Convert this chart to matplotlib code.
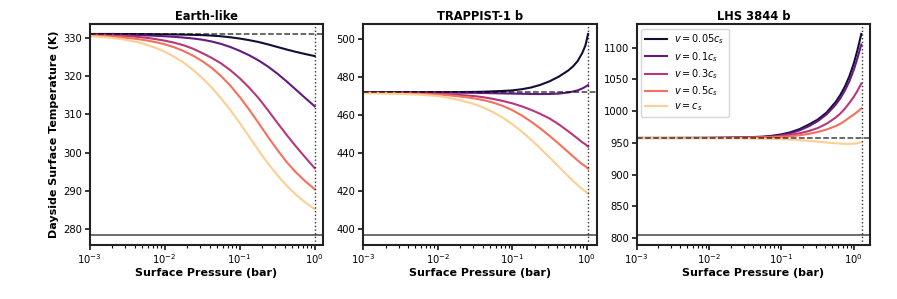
import numpy as np
import matplotlib
matplotlib.use("Agg")
import matplotlib.pyplot as plt
from matplotlib import cm

# ---------------- data ----------------
titles = ["Earth-like", "TRAPPIST-1 b", "LHS 3844 b"]
labels = [r"$v = 0.05c_s$", r"$v = 0.1c_s$", r"$v = 0.3c_s$", r"$v = 0.5c_s$", r"$v = c_s$"]

# Earth-like (log10 surface pressure in bar, temperatures in K)
logp_earth = [-3, -2.875, -2.75, -2.625, -2.5, -2.375, -2.25, -2.125, -2, -1.875, -1.75, -1.625, -1.5,
              -1.375, -1.25, -1.125, -1, -0.875, -0.75, -0.625, -0.5, -0.375, -0.25, -0.125, 0]
T_earth_005 = [331.1, 331.1, 331.1, 331.09, 331.08, 331.07, 331.05, 331.03, 331.0, 330.97, 330.93, 330.87, 330.8,
               330.67, 330.5, 330.23, 329.9, 329.48, 329.0, 328.38, 327.7, 327.03, 326.4, 325.83, 325.3]
T_earth_01 = [331.0, 330.98, 330.95, 330.91, 330.86, 330.8, 330.72, 330.62, 330.5, 330.35, 330.16, 329.92, 329.6,
              329.13, 328.5, 327.68, 326.68, 325.53, 324.18, 322.58, 320.73, 318.68, 316.48, 314.28, 312.13]
T_earth_03 = [330.9, 330.85, 330.78, 330.68, 330.54, 330.35, 330.1, 329.77, 329.35, 328.82, 328.15, 327.25, 326.1,
              324.85, 323.4, 321.6, 319.5, 317.05, 314.3, 311.15, 307.85, 304.65, 301.6, 298.7, 295.9]
T_earth_05 = [330.7, 330.6, 330.47, 330.3, 330.08, 329.8, 329.44, 328.98, 328.4, 327.62, 326.64, 325.44, 323.99,
              322.24, 320.09, 317.54, 314.59, 311.29, 307.79, 304.19, 300.74, 297.54, 294.79, 292.44, 290.39]
T_earth_10 = [330.5, 330.35, 330.15, 329.87, 329.49, 328.99, 328.34, 327.49, 326.44, 325.14, 323.59, 321.74, 319.59,
              317.09, 314.24, 311.14, 307.79, 304.19, 300.59, 297.19, 294.09, 291.34, 288.94, 286.89, 285.14]
earth_airless = 331.1   # dashed
earth_eq = 278.4        # solid
earth_pmax = 1.0

# TRAPPIST-1 b
logp_t1b = [-3, -2.75, -2.5, -2.25, -2, -1.875, -1.75, -1.625, -1.5, -1.375, -1.25, -1.125, -1,
            -0.875, -0.75, -0.625, -0.5, -0.375, -0.25, -0.1875, -0.125, -0.0625, -0.02, 0.016]
T_t1b_005 = [472.0, 472.0, 472.0, 472.05, 472.1, 472.1, 472.1, 472.15, 472.2, 472.3, 472.5, 472.7, 473.0,
             473.6, 474.5, 475.9, 477.8, 480.3, 483.5, 485.6, 488.4, 492.7, 496.7, 502.8]
T_t1b_01 = [472.0, 472.0, 472.0, 471.95, 471.9, 471.85, 471.8, 471.75, 471.7, 471.6, 471.5, 471.4, 471.3,
            471.2, 471.1, 471.05, 471.1, 471.3, 471.9, 472.4, 473.0, 474.0, 474.9, 475.8]
T_t1b_03 = [471.8, 471.72, 471.6, 471.42, 471.2, 470.95, 470.67, 470.35, 469.95, 469.3, 468.45, 467.4, 466.15,
            464.6, 462.75, 460.6, 458.15, 455.0, 451.4, 449.5, 447.6, 445.6, 444.5, 443.3]
T_t1b_05 = [471.7, 471.6, 471.45, 471.2, 470.8, 470.45, 470.0, 469.43, 468.7, 467.75, 466.45, 464.75, 462.55,
            459.8, 456.55, 452.9, 448.95, 444.75, 440.4, 438.2, 436.05, 434.0, 432.9, 431.6]
T_t1b_10 = [471.5, 471.35, 471.1, 470.7, 470.0, 469.25, 468.25, 467.05, 465.6, 463.7, 461.35, 458.5, 455.15,
            451.3, 447.0, 442.4, 437.55, 432.6, 427.6, 425.25, 423.0, 420.85, 419.6, 418.5]
t1b_airless = 472.0
t1b_eq = 396.7
t1b_pmax = 1.04

# LHS 3844 b
logp_lhs = [-3, -2.5, -2, -1.75, -1.5, -1.375, -1.25, -1.125, -1, -0.875, -0.75, -0.625, -0.5,
            -0.375, -0.25, -0.1875, -0.125, -0.0625, 0, 0.05, 0.103]
T_lhs_005 = [957.6, 957.6, 957.7, 958.0, 958.6, 959.1, 959.7, 961.1, 963.2, 966.6, 971.5, 978.5, 986.4,
             997.8, 1014.4, 1025.2, 1038.2, 1054.5, 1075.2, 1096.0, 1121.4]
T_lhs_01 = [957.6, 957.6, 957.7, 957.9, 958.3, 958.6, 959.0, 960.1, 962.0, 965.2, 969.5, 975.9, 983.9,
            994.9, 1010.1, 1020.0, 1032.0, 1046.7, 1065.2, 1083.4, 1104.7]
T_lhs_03 = [957.5, 957.5, 957.6, 957.8, 958.2, 958.5, 959.0, 959.7, 960.8, 962.5, 964.9, 968.4, 973.1,
            980.1, 989.8, 996.0, 1003.6, 1012.7, 1022.5, 1031.9, 1043.2]
T_lhs_05 = [957.5, 957.5, 957.6, 957.7, 957.9, 958.1, 958.4, 958.8, 959.4, 960.3, 961.8, 964.0, 967.0,
            970.9, 976.4, 979.9, 984.3, 989.7, 994.5, 998.8, 1004.0]
T_lhs_10 = [957.3, 957.2, 957.0, 956.9, 956.7, 956.5, 956.2, 955.9, 955.5, 955.0, 954.2, 953.2, 951.9,
            950.4, 949.2, 948.7, 948.3, 948.2, 948.5, 949.3, 950.8]
lhs_airless = 957.6
lhs_eq = 805.0
lhs_pmax = 1.29

yticks_list = [[280, 290, 300, 310, 320, 330],
               [400, 420, 440, 460, 480, 500],
               [800, 850, 900, 950, 1000, 1050, 1100]]

panels = [
    (logp_earth, [T_earth_005, T_earth_01, T_earth_03, T_earth_05, T_earth_10], earth_airless, earth_eq, earth_pmax),
    (logp_t1b, [T_t1b_005, T_t1b_01, T_t1b_03, T_t1b_05, T_t1b_10], t1b_airless, t1b_eq, t1b_pmax),
    (logp_lhs, [T_lhs_005, T_lhs_01, T_lhs_03, T_lhs_05, T_lhs_10], lhs_airless, lhs_eq, lhs_pmax),
]

colors = cm.magma(np.linspace(0.1, 0.9, 5))

fig, axes = plt.subplots(1, 3, figsize=(8.97, 2.99), dpi=100)
fig.subplots_adjust(left=0.100, right=0.970, bottom=0.181, top=0.920, wspace=0.171)

for i, ax in enumerate(axes):
    logp, series, airless, eq, pmax = panels[i]
    p = 10.0 ** np.array(logp)
    for s, c, lab in zip(series, colors, labels):
        ax.plot(p, s, color=c, lw=1.5, label=lab, solid_joinstyle="round")
    ax.axhline(airless, color="k", ls="--", lw=1.1, alpha=0.75)
    ax.axhline(eq, color="#444444", ls="-", lw=1.1)
    ax.axvline(pmax, color="k", ls=":", lw=1.0, alpha=0.8)
    ax.set_xscale("log")
    ax.set_xlim(1e-3, pmax * 1.3)
    allv = np.concatenate([np.array(s) for s in series] + [[airless, eq]])
    lo, hi = allv.min(), allv.max()
    m = 0.05 * (hi - lo)
    ax.set_ylim(lo - m, hi + m)
    ax.set_yticks(yticks_list[i])
    ax.set_title(titles[i], fontsize=8.3, fontweight="bold", pad=3)
    ax.set_xlabel("Surface Pressure (bar)", fontsize=8.0, fontweight="bold", labelpad=1)
    for sp in ax.spines.values():
        sp.set_linewidth(1.5)
        sp.set_color("#222222")
    ax.tick_params(axis="both", which="major", labelsize=7.2, length=3.5, width=1.1, direction="out", pad=2)
    ax.tick_params(axis="x", which="minor", length=2, width=0.8)

axes[0].set_ylabel("Dayside Surface Temperature (K)", fontsize=8.0, fontweight="bold", labelpad=3)
axes[2].legend(loc="upper left", fontsize=7, frameon=True, handlelength=2.2,
               borderpad=0.4, labelspacing=0.35, handletextpad=0.8, framealpha=0.8)

fig.savefig("out.png", dpi=100)
